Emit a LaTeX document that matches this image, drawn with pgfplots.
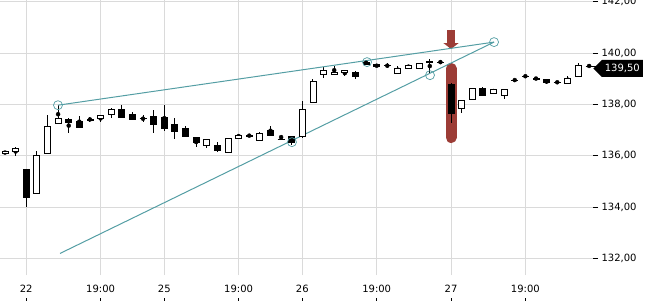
\documentclass[border=0pt]{standalone}
\usepackage{fontspec}
\setmainfont{DejaVu Sans}
\usepackage{pgfplots}
\usepackage{pgfplotstable}
\pgfplotsset{compat=1.18}
\usetikzlibrary{arrows.meta,shapes.symbols}
\definecolor{gridc}{RGB}{218,218,218}
\definecolor{trend}{RGB}{84,158,164}
\definecolor{hl}{RGB}{156,60,54}
\pgfdeclareplotmark{cbody}{%
  \pgfmathparse{abs(\cbh)}%
  \ifdim\pgfmathresult pt<0.7pt
    \pgfpathmoveto{\pgfpoint{-3.5pt}{0pt}}\pgfpathlineto{\pgfpoint{3.5pt}{0pt}}\pgfusepathqstroke
  \else
    \pgfpathrectangle{\pgfpoint{-3pt}{0pt}}{\pgfpoint{6pt}{\cbh pt}}\pgfusepathqfillstroke
  \fi}
\pgfplotstableread{
x o h l c
0 136.08 136.20 136.05 136.15
1 136.15 136.33 136.00 136.28
2 135.48 135.48 134.00 134.39
3 134.54 136.18 134.54 136.02
4 136.10 137.58 136.10 137.15
5 137.27 137.97 137.27 137.47
6 137.43 137.47 136.88 137.31
7 137.35 137.54 137.12 137.12
8 137.43 137.50 137.33 137.39
9 137.47 137.60 137.31 137.58
10 137.62 137.86 137.47 137.82
11 137.82 137.97 137.50 137.50
12 137.62 137.70 137.40 137.43
13 137.45 137.58 137.31 137.45
14 137.54 137.78 136.88 137.23
15 137.50 137.97 136.96 137.08
16 137.23 137.47 136.65 136.96
17 137.08 137.15 136.76 136.76
18 136.73 136.73 136.34 136.50
19 136.41 136.65 136.30 136.65
20 136.41 136.53 136.14 136.22
21 136.14 136.69 136.14 136.69
22 136.69 136.84 136.69 136.80
23 136.80 136.80 136.77 136.77
24 136.61 136.92 136.61 136.88
25 137.00 137.15 136.80 136.80
26 136.65 136.80 136.65 136.65
27 136.77 136.77 136.41 136.53
28 136.76 138.13 136.70 137.82
29 138.09 138.99 138.09 138.91
30 139.18 139.45 139.03 139.34
31 139.18 139.49 139.18 139.26
32 139.26 139.34 139.10 139.34
33 139.26 139.30 138.99 139.10
34 139.65 139.68 139.57 139.57
35 139.57 139.57 139.45 139.50
36 139.53 139.61 139.41 139.53
37 139.22 139.49 139.22 139.42
38 139.42 139.53 139.42 139.53
39 139.42 139.61 139.42 139.61
40 139.68 139.77 139.22 139.64
41 139.65 139.65 139.65 139.65
42 138.79 138.83 137.27 137.66
43 137.86 138.17 137.66 138.17
44 138.21 138.64 138.21 138.64
45 138.64 138.67 138.36 138.36
46 138.44 138.60 138.44 138.60
47 138.36 138.60 138.21 138.60
48 138.95 138.95 138.95 138.95
49 139.10 139.10 139.10 139.10
50 139.03 139.03 138.99 138.99
51 138.99 138.99 138.79 138.87
52 138.87 138.90 138.83 138.87
53 138.83 139.10 138.83 139.03
54 139.10 139.61 139.10 139.53
55 139.50 139.50 139.50 139.50
}\candles
\newcommand{\tk}[1]{#1\\[-1pt]\rule{0.8pt}{5pt}}
\begin{document}
\begin{tikzpicture}
\useasboundingbox (0,-25pt) rectangle (650pt,275pt);
\begin{axis}[
  at={(0,0)}, anchor=south west,
  x=10.62pt, y=25.65pt,
  xmin=-0.47, xmax=55.37,
  ymin=131.35, ymax=142.07,
  axis line style={draw=none},
  grid=major,
  major grid style={gridc, line width=0.9pt},
  xtick={2,9,15,22,28,35,42,49},
  xticklabels={\tk{22},\tk{19:00},\tk{25},\tk{19:00},\tk{26},\tk{19:00},\tk{27},\tk{19:00}},
  xtick style={draw=none},
  xticklabel style={align=center, yshift=-2pt, font=\fontsize{10}{11}\selectfont},
  ytick={132,134,...,142},
  ytick pos=right,
  yticklabel pos=right,
  tick align=outside,
  major tick length=5pt,
  ytick style={black, line width=0.9pt},
  yticklabel style={font=\fontsize{10}{12}\selectfont, text=black},
  /pgf/number format/assume math mode=true,
  yticklabel={\pgfmathprintnumber[fixed, fixed zerofill, precision=2, use comma]{\tick}},
  extra y ticks={139.5},
  extra y tick labels={{139{,}50}},
  extra y tick style={grid=none, yticklabel={139{,}50}, yticklabel style={shape=signal, signal to=west, fill=black, text=white, inner xsep=3pt, minimum height=17pt, yshift=-2.5pt, xshift=-5pt, font=\fontsize{10}{12}\selectfont}},
  clip=true,
]
% highlight bar
\addplot[hl, line width=11pt, line cap=round, forget plot] coordinates {(42,139.40) (42,136.71)};
% arrow
\addplot[hl, line width=8pt, -{Triangle[width=15pt,length=6pt]}, forget plot] coordinates {(42,140.90) (42,140.16)};
% wicks
\addplot[only marks, mark=none, forget plot,
  error bars/.cd, y dir=both, y explicit, error mark=none,
  error bar style={black, solid, line width=1pt}]
  table[x=x, y expr={(\thisrow{h}+\thisrow{l})/2}, y error expr={(\thisrow{h}-\thisrow{l})/2}] {\candles};
% hollow bodies
\addplot[only marks, mark=cbody, mark options={draw=black, fill=white, line width=0.9pt},
  visualization depends on={25.65*(\thisrow{c}-\thisrow{o}) \as \cbh},
  restrict expr to domain={\thisrow{c}-\thisrow{o}}{0:20}, forget plot]
  table[x=x, y=o] {\candles};
% filled bodies
\addplot[only marks, mark=cbody, mark options={draw=black, fill=black, line width=0.9pt},
  visualization depends on={25.65*(\thisrow{c}-\thisrow{o}) \as \cbh},
  restrict expr to domain={\thisrow{c}-\thisrow{o}}{-20:-0.001}, forget plot]
  table[x=x, y=o] {\candles};
% trend lines
\addplot[trend, line width=1pt, forget plot] coordinates {(4.99,137.97) (46.05,140.43)};
\addplot[trend, line width=1pt, forget plot] coordinates {(5.18,132.19) (46.05,140.43)};
\addplot[only marks, mark=o, mark size=4.5pt, mark options={draw=trend, line width=0.7pt}, forget plot]
  coordinates {(4.99,137.97) (34.09,139.65) (46.05,140.43) (27.02,136.53) (40.02,139.14)};
\end{axis}
\end{tikzpicture}
\end{document}
